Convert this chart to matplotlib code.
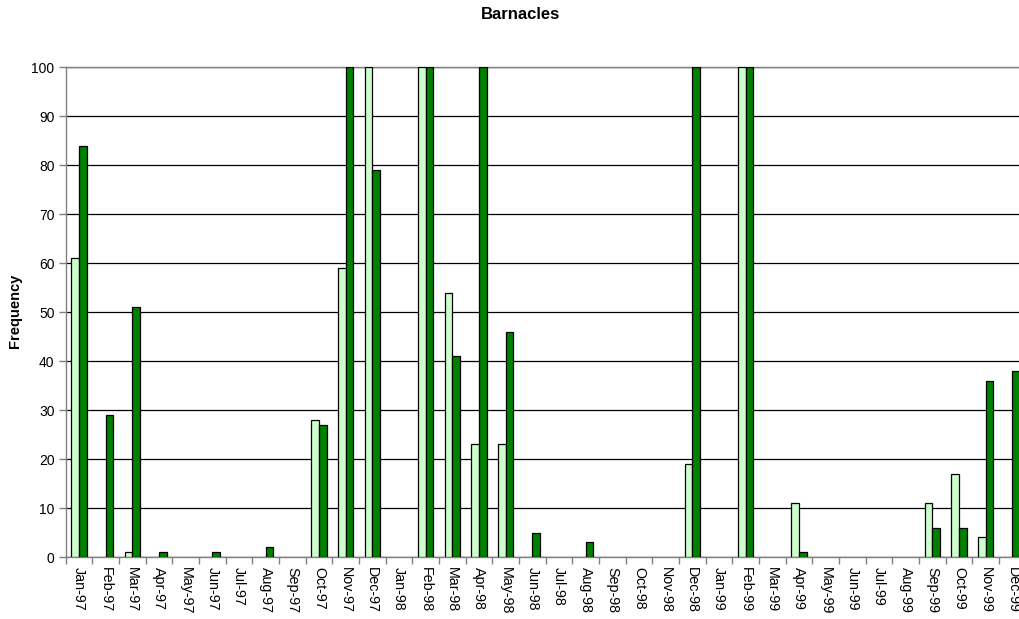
import matplotlib
matplotlib.use("Agg")
import matplotlib.pyplot as plt
import numpy as np

plt.rcParams['font.family'] = ['Liberation Sans', 'DejaVu Sans']

months = ["Jan-97", "Feb-97", "Mar-97", "Apr-97", "May-97", "Jun-97",
          "Jul-97", "Aug-97", "Sep-97", "Oct-97", "Nov-97", "Dec-97",
          "Jan-98", "Feb-98", "Mar-98", "Apr-98", "May-98", "Jun-98",
          "Jul-98", "Aug-98", "Sep-98", "Oct-98", "Nov-98", "Dec-98",
          "Jan-99", "Feb-99", "Mar-99", "Apr-99", "May-99", "Jun-99",
          "Jul-99", "Aug-99", "Sep-99", "Oct-99", "Nov-99", "Dec-99"]

series_light = [61, 0, 1, 0, 0, 0, 0, 0, 0, 28, 59, 100,
                0, 100, 54, 23, 23, 0, 0, 0, 0, 0, 0, 19,
                0, 100, 0, 11, 0, 0, 0, 0, 11, 17, 4, 0]

series_dark = [84, 29, 51, 1, 0, 1, 0, 2, 0, 27, 100, 79,
               0, 100, 41, 100, 46, 5, 0, 3, 0, 0, 0, 100,
               0, 100, 0, 1, 0, 0, 0, 0, 6, 6, 36, 38]

y_ticks = list(range(0, 101, 10))

fig = plt.figure(figsize=(10.20, 6.19), dpi=100)
ax = fig.add_axes([0.0644, 0.1001, 0.9412, 0.7911])

x = np.arange(len(months))
w = 0.29


def draw_series(values, offset, color):
    vals = np.asarray(values, dtype=float)
    keep = vals > 0  # empty months show no bar
    ax.bar(x[keep] + offset, vals[keep], width=w, color=color,
           edgecolor="black", linewidth=0.9, zorder=3)


draw_series(series_light, -w / 2, "#CCFFCC")
draw_series(series_dark, w / 2, "#008000")

ax.set_xlim(-0.5, len(months) - 0.5)
ax.set_ylim(0, 100)

# horizontal gridlines
ax.set_yticks(y_ticks)
ax.yaxis.grid(True, color="black", linewidth=0.9, zorder=1)
ax.set_axisbelow(True)

# category labels at centres, tick marks at category boundaries
ax.set_xticks(x)
ax.set_xticklabels(months, rotation=-90, fontsize=10.3)
ax.tick_params(axis="x", which="major", length=0, pad=7)
ax.set_xticks(np.arange(len(months) + 1) - 0.5, minor=True)
ax.tick_params(axis="x", which="minor", length=5, width=1, color="#808080")
ax.tick_params(axis="y", length=5, width=1, color="#808080",
               labelsize=10, pad=3)

for side in ["left", "bottom", "top", "right"]:
    ax.spines[side].set_color("#808080")
    ax.spines[side].set_linewidth(1.0)

fig.text(15 / 1020, 1 - 311 / 619, "Frequency", rotation=90,
         ha="center", va="center", fontsize=10.5, fontweight="bold")
fig.text(0.51, 0.977, "Barnacles", ha="center", va="center",
         fontsize=12, fontweight="bold")

fig.savefig("out.png", dpi=100)
